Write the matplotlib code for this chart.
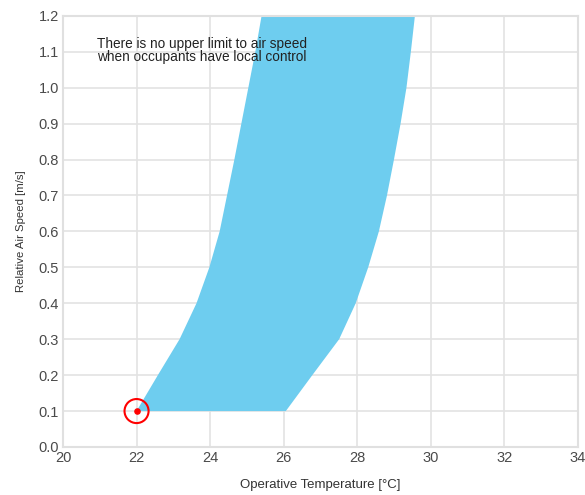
import matplotlib
matplotlib.use("Agg")
import matplotlib.pyplot as plt

# Comfort zone boundaries (operative temperature [°C] vs relative air speed [m/s])
left_temp = [22.0, 22.58, 23.17, 23.63, 23.98, 24.26, 24.46, 24.66, 24.85, 25.04, 25.23, 25.40]
left_speed = [0.1, 0.2, 0.3, 0.4, 0.5, 0.6, 0.7, 0.8, 0.9, 1.0, 1.1, 1.2]
right_temp = [26.06, 26.78, 27.51, 27.96, 28.30, 28.59, 28.81, 29.00, 29.18, 29.34, 29.46, 29.57]
right_speed = [0.1, 0.2, 0.3, 0.4, 0.5, 0.6, 0.7, 0.8, 0.9, 1.0, 1.1, 1.2]

point_temp = [22.0]
point_speed = [0.1]

x_ticks = [20, 22, 24, 26, 28, 30, 32, 34]
y_ticks = [0.0, 0.1, 0.2, 0.3, 0.4, 0.5, 0.6, 0.7, 0.8, 0.9, 1.0, 1.1, 1.2]

note = "There is no upper limit to air speed\nwhen occupants have local control"

plt.rcParams['font.family'] = ['Liberation Sans', 'DejaVu Sans']

fig = plt.figure(figsize=(5.85, 4.95), dpi=100)
ax = fig.add_axes([0.1077, 0.097, 0.880, 0.871])

poly_x = left_temp + right_temp[::-1]
poly_y = left_speed + right_speed[::-1]
ax.fill(poly_x, poly_y, color='#6ECDEF', linewidth=0, zorder=2)

ax.scatter(point_temp, point_speed, s=14, color='red', zorder=4)
ax.scatter(point_temp, point_speed, s=300, facecolors='none', edgecolors='red', linewidths=1.5, zorder=4)

ax.set_xlim(20, 34)
ax.set_ylim(0, 1.2)
ax.set_xticks(x_ticks)
ax.set_yticks(y_ticks)
ax.set_xticklabels([str(t) for t in x_ticks])
ax.set_yticklabels([f"{t:.1f}" for t in y_ticks])
ax.grid(True, color='#e3e3e3', linewidth=1.2, zorder=1)
ax.set_axisbelow(True)
ax.tick_params(length=0, labelsize=10.5, labelcolor='#4a4a4a', pad=3)
for s in ax.spines.values():
    s.set_color('#e0e0e0')
    s.set_linewidth(1.5)

ax.set_xlabel("Operative Temperature [°C]", fontsize=9.5, color='#333333', labelpad=10)
ax.set_ylabel("Relative Air Speed [m/s]", fontsize=8.2, color='#333333', labelpad=9)

ax.text(20.92, 1.103, note, fontsize=9.8, color='#222222', linespacing=0.95, va='center', ha='left', zorder=5)

fig.savefig("out.png", dpi=100)
